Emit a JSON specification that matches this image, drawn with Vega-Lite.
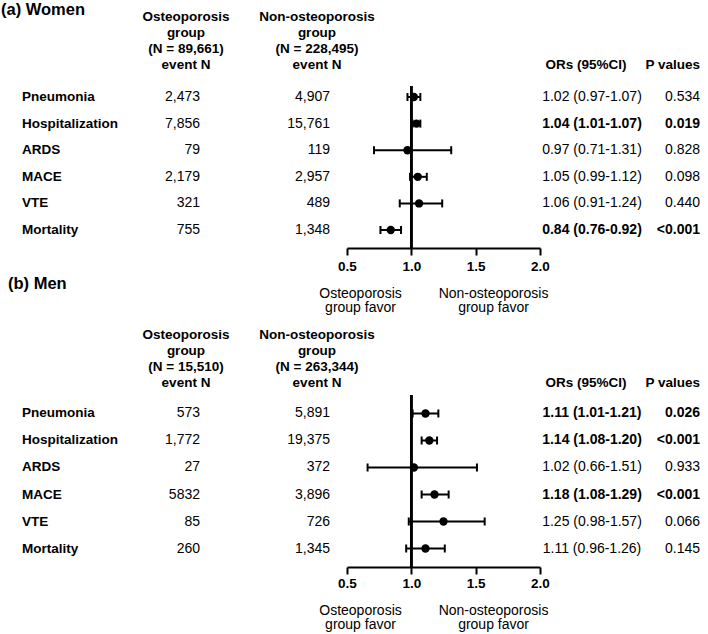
{
  "$schema": "https://vega.github.io/schema/vega-lite/v6.json",
  "padding": {"left": 1, "top": 1, "right": 0, "bottom": 0},
  "config": {
    "font": "Liberation Sans",
    "view": {"stroke": null},
    "title": {"color": "black", "font": "Liberation Sans"},
    "text": {"color": "black", "font": "Liberation Sans"}
  },
  "datasets": {
    "women": [
      {"outcome": "Pneumonia", "osteo": "2,473", "non": "4,907", "or": 1.02, "lo": 0.97, "hi": 1.07, "ci": "1.02 (0.97-1.07)", "p": "0.534"},
      {"outcome": "Hospitalization", "osteo": "7,856", "non": "15,761", "or": 1.04, "lo": 1.01, "hi": 1.07, "ci": "1.04 (1.01-1.07)", "p": "0.019"},
      {"outcome": "ARDS", "osteo": "79", "non": "119", "or": 0.97, "lo": 0.71, "hi": 1.31, "ci": "0.97 (0.71-1.31)", "p": "0.828"},
      {"outcome": "MACE", "osteo": "2,179", "non": "2,957", "or": 1.05, "lo": 0.99, "hi": 1.12, "ci": "1.05 (0.99-1.12)", "p": "0.098"},
      {"outcome": "VTE", "osteo": "321", "non": "489", "or": 1.06, "lo": 0.91, "hi": 1.24, "ci": "1.06 (0.91-1.24)", "p": "0.440"},
      {"outcome": "Mortality", "osteo": "755", "non": "1,348", "or": 0.84, "lo": 0.76, "hi": 0.92, "ci": "0.84 (0.76-0.92)", "p": "<0.001"}
    ],
    "men": [
      {"outcome": "Pneumonia", "osteo": "573", "non": "5,891", "or": 1.11, "lo": 1.01, "hi": 1.21, "ci": "1.11 (1.01-1.21)", "p": "0.026"},
      {"outcome": "Hospitalization", "osteo": "1,772", "non": "19,375", "or": 1.14, "lo": 1.08, "hi": 1.20, "ci": "1.14 (1.08-1.20)", "p": "<0.001"},
      {"outcome": "ARDS", "osteo": "27", "non": "372", "or": 1.02, "lo": 0.66, "hi": 1.51, "ci": "1.02 (0.66-1.51)", "p": "0.933"},
      {"outcome": "MACE", "osteo": "5832", "non": "3,896", "or": 1.18, "lo": 1.08, "hi": 1.29, "ci": "1.18 (1.08-1.29)", "p": "<0.001"},
      {"outcome": "VTE", "osteo": "85", "non": "726", "or": 1.25, "lo": 0.98, "hi": 1.57, "ci": "1.25 (0.98-1.57)", "p": "0.066"},
      {"outcome": "Mortality", "osteo": "260", "non": "1,345", "or": 1.11, "lo": 0.96, "hi": 1.26, "ci": "1.11 (0.96-1.26)", "p": "0.145"}
    ]
  },
  "bounds": "flush",
  "align": "each",
  "columns": 6,
  "spacing": {"row": 147, "column": 17},
  "concat": [
    {
      "data": {"name": "women"},
      "width": 21, "height": 162,
      "title": {"text": "(a) Women", "anchor": "start", "align": "left", "frame": "group", "offset": 68, "fontSize": 16.5, "fontWeight": "bold", "limit": 0},
      "mark": {"type": "text", "align": "left", "baseline": "middle", "fontWeight": "bold", "fontSize": 13.5},
      "encoding": {
        "y": {"field": "outcome", "type": "nominal", "sort": null, "axis": null, "scale": {"type": "point", "padding": 0.545, "align": 0.38}},
        "x": {"value": "width"},
        "text": {"field": "outcome"}
      }
    },
    {
      "data": {"name": "women"},
      "width": 161, "height": 162,
      "title": {"text": ["Osteoporosis", "group", "(N = 89,661)", "event N"], "anchor": "end", "align": "center", "dx": -14, "frame": "group", "offset": 14.6, "fontSize": 13.5, "fontWeight": "bold", "lineHeight": 16, "limit": 0},
      "mark": {"type": "text", "align": "right", "baseline": "middle", "fontSize": 14},
      "encoding": {
        "y": {"field": "outcome", "type": "nominal", "sort": null, "axis": null, "scale": {"type": "point", "padding": 0.545, "align": 0.38}},
        "x": {"value": "width"},
        "text": {"field": "osteo"}
      }
    },
    {
      "data": {"name": "women"},
      "width": 113, "height": 162,
      "title": {"text": ["Non-osteoporosis", "group", "(N = 228,495)", "event N"], "anchor": "end", "align": "center", "dx": -13, "frame": "group", "offset": 14.6, "fontSize": 13.5, "fontWeight": "bold", "lineHeight": 16, "limit": 0},
      "mark": {"type": "text", "align": "right", "baseline": "middle", "fontSize": 14},
      "encoding": {
        "y": {"field": "outcome", "type": "nominal", "sort": null, "axis": null, "scale": {"type": "point", "padding": 0.545, "align": 0.38}},
        "x": {"value": "width"},
        "text": {"field": "non"}
      }
    },
    {
      "data": {"name": "women"},
      "width": 193, "height": 162,
      "resolve": {"scale": {"x": "shared"}, "axis": {"x": "independent"}},
      "layer": [
        {
          "mark": {"type": "rule", "color": "black", "strokeWidth": 2},
          "encoding": {
            "x": {"datum": 1, "type": "quantitative", "scale": {"domain": [0.5, 2], "nice": false, "zero": false},
              "axis": {"orient": "bottom", "values": [0.5, 1, 1.5, 2], "format": ".1f", "title": null, "grid": false, "domainColor": "black", "domainWidth": 2, "tickColor": "black", "tickWidth": 2, "tickSize": 7, "labelFontSize": 13.5, "labelFontWeight": "bold", "labelColor": "black", "labelPadding": 4, "labelFlush": false, "labelOverlap": false}}
          }
        },
        {
          "mark": {"type": "rule", "color": "black", "strokeWidth": 2},
          "encoding": {
            "x": {"field": "lo", "type": "quantitative", "axis": null, "scale": {"domain": [0.5, 2], "nice": false, "zero": false}},
            "x2": {"field": "hi"},
            "y": {"field": "outcome", "type": "nominal", "sort": null, "axis": null, "scale": {"type": "point", "padding": 0.545, "align": 0.38}}
          }
        },
        {
          "mark": {"type": "tick", "color": "black", "thickness": 2, "size": 8, "opacity": 1},
          "encoding": {
            "x": {"field": "lo", "type": "quantitative", "axis": null, "scale": {"domain": [0.5, 2], "nice": false, "zero": false}},
            "y": {"field": "outcome", "type": "nominal", "sort": null, "axis": null, "scale": {"type": "point", "padding": 0.545, "align": 0.38}}
          }
        },
        {
          "mark": {"type": "tick", "color": "black", "thickness": 2, "size": 8, "opacity": 1},
          "encoding": {
            "x": {"field": "hi", "type": "quantitative", "axis": null, "scale": {"domain": [0.5, 2], "nice": false, "zero": false}},
            "y": {"field": "outcome", "type": "nominal", "sort": null, "axis": null, "scale": {"type": "point", "padding": 0.545, "align": 0.38}}
          }
        },
        {
          "mark": {"type": "point", "filled": true, "color": "black", "size": 70, "opacity": 1},
          "encoding": {
            "x": {"field": "or", "type": "quantitative", "scale": {"domain": [0.5, 2], "nice": false, "zero": false},
              "axis": {"orient": "bottom", "values": [0.601, 1.635], "title": null, "grid": false, "domain": false, "ticks": false, "labelExpr": "datum.value < 1 ? ['Osteoporosis', 'group favor'] : ['Non-osteoporosis', 'group favor']", "labelFontSize": 14, "labelFontWeight": "normal", "labelColor": "black", "labelPadding": 38, "labelLineHeight": 14.5, "labelFlush": false, "labelOverlap": false}},
            "y": {"field": "outcome", "type": "nominal", "sort": null, "axis": null, "scale": {"type": "point", "padding": 0.545, "align": 0.38}}
          }
        }
      ]
    },
    {
      "data": {"name": "women"},
      "width": 70, "height": 162,
      "title": {"text": "ORs (95%CI)", "anchor": "middle", "align": "center", "dx": -6, "frame": "group", "offset": 14.6, "fontSize": 13.5, "fontWeight": "bold", "limit": 0},
      "mark": {"type": "text", "align": "center", "baseline": "middle", "fontSize": 14, "fontWeight": {"expr": "toNumber(replace(datum.p, '<', '')) < 0.05 ? 'bold' : 'normal'"}},
      "encoding": {
        "y": {"field": "outcome", "type": "nominal", "sort": null, "axis": null, "scale": {"type": "point", "padding": 0.545, "align": 0.38}},
        "text": {"field": "ci"}
      }
    },
    {
      "data": {"name": "women"},
      "width": 56, "height": 162,
      "title": {"text": "P values", "anchor": "end", "align": "right", "frame": "group", "offset": 14.6, "fontSize": 13.5, "fontWeight": "bold", "limit": 0},
      "mark": {"type": "text", "align": "right", "baseline": "middle", "fontSize": 14, "fontWeight": {"expr": "toNumber(replace(datum.p, '<', '')) < 0.05 ? 'bold' : 'normal'"}},
      "encoding": {
        "y": {"field": "outcome", "type": "nominal", "sort": null, "axis": null, "scale": {"type": "point", "padding": 0.545, "align": 0.38}},
        "x": {"value": "width"},
        "text": {"field": "p"}
      }
    },
    {
      "data": {"name": "men"},
      "width": 21, "height": 172,
      "title": {"text": "(b) Men", "anchor": "start", "align": "left", "dx": 7, "frame": "group", "offset": 103, "fontSize": 16.5, "fontWeight": "bold", "limit": 0},
      "mark": {"type": "text", "align": "left", "baseline": "middle", "fontWeight": "bold", "fontSize": 13.5},
      "encoding": {
        "y": {"field": "outcome", "type": "nominal", "sort": null, "axis": null, "scale": {"type": "point", "padding": 0.685, "align": 0.5}},
        "x": {"value": "width"},
        "text": {"field": "outcome"}
      }
    },
    {
      "data": {"name": "men"},
      "width": 161, "height": 172,
      "title": {"text": ["Osteoporosis", "group", "(N = 15,510)", "event N"], "anchor": "end", "align": "center", "dx": -14, "frame": "group", "offset": 5.6, "fontSize": 13.5, "fontWeight": "bold", "lineHeight": 16, "limit": 0},
      "mark": {"type": "text", "align": "right", "baseline": "middle", "fontSize": 14},
      "encoding": {
        "y": {"field": "outcome", "type": "nominal", "sort": null, "axis": null, "scale": {"type": "point", "padding": 0.685, "align": 0.5}},
        "x": {"value": "width"},
        "text": {"field": "osteo"}
      }
    },
    {
      "data": {"name": "men"},
      "width": 113, "height": 172,
      "title": {"text": ["Non-osteoporosis", "group", "(N = 263,344)", "event N"], "anchor": "end", "align": "center", "dx": -13, "frame": "group", "offset": 5.6, "fontSize": 13.5, "fontWeight": "bold", "lineHeight": 16, "limit": 0},
      "mark": {"type": "text", "align": "right", "baseline": "middle", "fontSize": 14},
      "encoding": {
        "y": {"field": "outcome", "type": "nominal", "sort": null, "axis": null, "scale": {"type": "point", "padding": 0.685, "align": 0.5}},
        "x": {"value": "width"},
        "text": {"field": "non"}
      }
    },
    {
      "data": {"name": "men"},
      "width": 193, "height": 172,
      "resolve": {"scale": {"x": "shared"}, "axis": {"x": "independent"}},
      "layer": [
        {
          "mark": {"type": "rule", "color": "black", "strokeWidth": 2},
          "encoding": {
            "x": {"datum": 1, "type": "quantitative", "scale": {"domain": [0.5, 2], "nice": false, "zero": false},
              "axis": {"orient": "bottom", "values": [0.5, 1, 1.5, 2], "format": ".1f", "title": null, "grid": false, "domainColor": "black", "domainWidth": 2, "tickColor": "black", "tickWidth": 2, "tickSize": 7, "labelFontSize": 13.5, "labelFontWeight": "bold", "labelColor": "black", "labelPadding": 2, "labelFlush": false, "labelOverlap": false}}
          }
        },
        {
          "mark": {"type": "rule", "color": "black", "strokeWidth": 2},
          "encoding": {
            "x": {"field": "lo", "type": "quantitative", "axis": null, "scale": {"domain": [0.5, 2], "nice": false, "zero": false}},
            "x2": {"field": "hi"},
            "y": {"field": "outcome", "type": "nominal", "sort": null, "axis": null, "scale": {"type": "point", "padding": 0.685, "align": 0.5}}
          }
        },
        {
          "mark": {"type": "tick", "color": "black", "thickness": 2, "size": 8, "opacity": 1},
          "encoding": {
            "x": {"field": "lo", "type": "quantitative", "axis": null, "scale": {"domain": [0.5, 2], "nice": false, "zero": false}},
            "y": {"field": "outcome", "type": "nominal", "sort": null, "axis": null, "scale": {"type": "point", "padding": 0.685, "align": 0.5}}
          }
        },
        {
          "mark": {"type": "tick", "color": "black", "thickness": 2, "size": 8, "opacity": 1},
          "encoding": {
            "x": {"field": "hi", "type": "quantitative", "axis": null, "scale": {"domain": [0.5, 2], "nice": false, "zero": false}},
            "y": {"field": "outcome", "type": "nominal", "sort": null, "axis": null, "scale": {"type": "point", "padding": 0.685, "align": 0.5}}
          }
        },
        {
          "mark": {"type": "point", "filled": true, "color": "black", "size": 70, "opacity": 1},
          "encoding": {
            "x": {"field": "or", "type": "quantitative", "scale": {"domain": [0.5, 2], "nice": false, "zero": false},
              "axis": {"orient": "bottom", "values": [0.601, 1.635], "title": null, "grid": false, "domain": false, "ticks": false, "labelExpr": "datum.value < 1 ? ['Osteoporosis', 'group favor'] : ['Non-osteoporosis', 'group favor']", "labelFontSize": 14, "labelFontWeight": "normal", "labelColor": "black", "labelPadding": 36, "labelLineHeight": 14.5, "labelFlush": false, "labelOverlap": false}},
            "y": {"field": "outcome", "type": "nominal", "sort": null, "axis": null, "scale": {"type": "point", "padding": 0.685, "align": 0.5}}
          }
        }
      ]
    },
    {
      "data": {"name": "men"},
      "width": 70, "height": 172,
      "title": {"text": "ORs (95%CI)", "anchor": "middle", "align": "center", "dx": -6, "frame": "group", "offset": 5.6, "fontSize": 13.5, "fontWeight": "bold", "limit": 0},
      "mark": {"type": "text", "align": "center", "baseline": "middle", "fontSize": 14, "fontWeight": {"expr": "toNumber(replace(datum.p, '<', '')) < 0.05 ? 'bold' : 'normal'"}},
      "encoding": {
        "y": {"field": "outcome", "type": "nominal", "sort": null, "axis": null, "scale": {"type": "point", "padding": 0.685, "align": 0.5}},
        "text": {"field": "ci"}
      }
    },
    {
      "data": {"name": "men"},
      "width": 56, "height": 172,
      "title": {"text": "P values", "anchor": "end", "align": "right", "frame": "group", "offset": 5.6, "fontSize": 13.5, "fontWeight": "bold", "limit": 0},
      "mark": {"type": "text", "align": "right", "baseline": "middle", "fontSize": 14, "fontWeight": {"expr": "toNumber(replace(datum.p, '<', '')) < 0.05 ? 'bold' : 'normal'"}},
      "encoding": {
        "y": {"field": "outcome", "type": "nominal", "sort": null, "axis": null, "scale": {"type": "point", "padding": 0.685, "align": 0.5}},
        "x": {"value": "width"},
        "text": {"field": "p"}
      }
    }
  ]
}
